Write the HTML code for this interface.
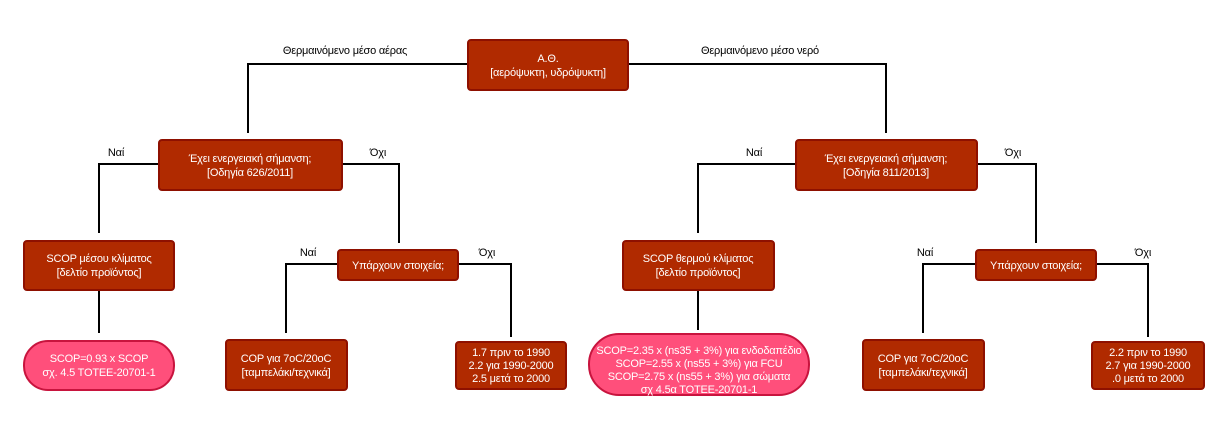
<!DOCTYPE html>
<html><head><meta charset="utf-8"><style>
html,body{margin:0;padding:0;background:#fff;}
svg{display:block;}
text{font-family:"Liberation Sans","DejaVu Sans",sans-serif;font-size:11px;letter-spacing:-0.2px;}
.w{fill:#fff;text-anchor:middle;}
.k{fill:#000;text-anchor:middle;}
.b{fill:#b02a00;stroke:#8e1000;stroke-width:2;}
.p{fill:#ff4f7b;stroke:#c8143e;stroke-width:2;}
.l{stroke:#000;stroke-width:2;fill:none;}
</style></head><body>
<svg width="1229" height="425" viewBox="0 0 1229 425">
<polyline class="l" points="468,64 248,64 248,133"/>
<polyline class="l" points="628,64 886,64 886,133"/>
<polyline class="l" points="160,164 99,164 99,233"/>
<polyline class="l" points="342,164 399,164 399,243"/>
<line class="l" x1="99" y1="290" x2="99" y2="333"/>
<polyline class="l" points="338,264 286,264 286,333"/>
<polyline class="l" points="458,264 511,264 511,337"/>
<polyline class="l" points="796,164 698,164 698,233"/>
<polyline class="l" points="977,164 1036,164 1036,243"/>
<line class="l" x1="698" y1="290" x2="698" y2="330"/>
<polyline class="l" points="976,264 923,264 923,333"/>
<polyline class="l" points="1096,264 1148,264 1148,337"/>
<rect class="b" x="468" y="40" width="160" height="50" rx="3"/>
<text class="w" x="548" y="62">Α.Θ.</text>
<text class="w" x="548" y="76">[αερόψυκτη, υδρόψυκτη]</text>
<rect class="b" x="159" y="140" width="183" height="50" rx="3"/>
<text class="w" x="250" y="162">Έχει ενεργειακή σήμανση;</text>
<text class="w" x="250" y="176">[Οδηγία 626/2011]</text>
<rect class="b" x="796" y="140" width="181" height="50" rx="3"/>
<text class="w" x="886" y="162">Έχει ενεργειακή σήμανση;</text>
<text class="w" x="886" y="176">[Οδηγία 811/2013]</text>
<rect class="b" x="24" y="241" width="150" height="49" rx="3"/>
<text class="w" x="99" y="262">SCOP μέσου κλίματος</text>
<text class="w" x="99" y="276">[δελτίο προϊόντος]</text>
<rect class="b" x="623" y="241" width="151" height="49" rx="3"/>
<text class="w" x="698" y="262">SCOP θερμού κλίματος</text>
<text class="w" x="698" y="276">[δελτίο προϊόντος]</text>
<rect class="b" x="338" y="250" width="120" height="30" rx="3"/>
<text class="w" x="398" y="269">Υπάρχουν στοιχεία;</text>
<rect class="b" x="976" y="250" width="120" height="30" rx="3"/>
<text class="w" x="1036" y="269">Υπάρχουν στοιχεία;</text>
<rect class="b" x="226" y="340" width="121" height="50" rx="3"/>
<text class="w" x="286" y="362">COP για 7oC/20oC</text>
<text class="w" x="286" y="376">[ταμπελάκι/τεχνικά]</text>
<rect class="b" x="863" y="340" width="121" height="50" rx="3"/>
<text class="w" x="923" y="362">COP για 7oC/20oC</text>
<text class="w" x="923" y="376">[ταμπελάκι/τεχνικά]</text>
<rect class="b" x="456" y="342" width="110" height="47" rx="3"/>
<text class="w" x="511" y="356">1.7 πριν το 1990</text>
<text class="w" x="511" y="369">2.2 για 1990-2000</text>
<text class="w" x="511" y="382">2.5 μετά το 2000</text>
<rect class="b" x="1092" y="342" width="112" height="47" rx="3"/>
<text class="w" x="1148" y="356">2.2 πριν το 1990</text>
<text class="w" x="1148" y="369">2.7 για 1990-2000</text>
<text class="w" x="1148" y="382">.0 μετά το 2000</text>
<rect class="p" x="24" y="341" width="150" height="49" rx="24"/>
<text class="w" x="99" y="362">SCOP=0.93 x SCOP</text>
<text class="w" x="99" y="376">σχ. 4.5 ΤΟΤΕΕ-20701-1</text>
<rect class="p" x="589" y="334" width="220" height="61" rx="30"/>
<text class="w" x="699" y="354">SCOP=2.35 x (ns35 + 3%) για ενδοδαπέδιο</text>
<text class="w" x="699" y="367">SCOP=2.55 x (ns55 + 3%) για FCU</text>
<text class="w" x="699" y="380">SCOP=2.75 x (ns55 + 3%) για σώματα</text>
<text class="w" x="699" y="393">σχ 4.5α ΤΟΤΕΕ-20701-1</text>
<text class="k" x="345" y="54">Θερμαινόμενο μέσο αέρας</text>
<text class="k" x="760" y="54">Θερμαινόμενο μέσο νερό</text>
<text class="k" x="116" y="156">Ναί</text>
<text class="k" x="378" y="156">Όχι</text>
<text class="k" x="308" y="256">Ναί</text>
<text class="k" x="487" y="256">Όχι</text>
<text class="k" x="754" y="156">Ναί</text>
<text class="k" x="1013" y="156">Όχι</text>
<text class="k" x="925" y="256">Ναί</text>
<text class="k" x="1143" y="256">Όχι</text>
</svg>
</body></html>
